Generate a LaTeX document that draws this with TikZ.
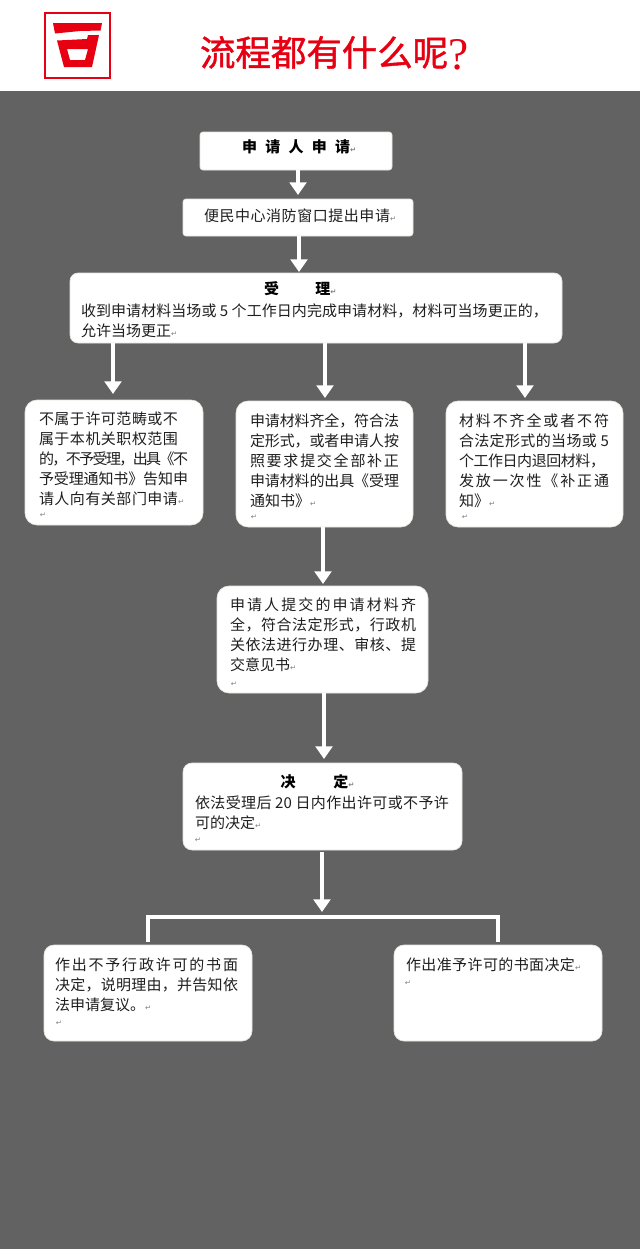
\documentclass[tikz,border=0pt]{standalone}
\usepackage{fontspec}
\setmainfont{Noto Sans CJK SC}
\newfontfamily\titlefont[FakeBold=1.2]{Noto Sans CJK SC}
\newfontfamily\retfont{DejaVu Sans}
\newfontfamily\qfont{Liberation Serif}
\usetikzlibrary{arrows.meta}
\definecolor{bggray}{HTML}{636263}
\definecolor{logored}{HTML}{E60012}
\definecolor{edgecol}{HTML}{E8E4DA}
\newlength\pxu \pxu=0.75pt
\makeatletter
\newcommand\jl[2]{\leavevmode\hbox to #1\pxu{\@tfor\jlc:=#2\do{\jlc\hskip 0pt plus 1fil minus 1fil\relax}\unskip}}
\makeatother
\newcommand\rt{{\retfont\fontsize{5.5pt}{5.5pt}\selectfont\textcolor{gray}{↵}}}
\tikzset{
  every node/.style={inner sep=0pt,outer sep=0pt},
  bx/.style n args={3}{draw=edgecol,line width=.5pt,fill=white,rounded corners=#3*0.75pt,minimum width=#1*0.75pt,minimum height=#2*0.75pt},
  txt/.style={anchor=north west,align=left,text=black!88,font=\fontsize{11.25pt}{15pt}\selectfont},
  head/.style={anchor=center,text=black,font=\fontsize{11.25pt}{15pt}\selectfont\bfseries},
  ret/.style={anchor=center,font=\fontsize{5.5pt}{5.5pt}\selectfont},
  arr/.style={draw=white,line width=3pt,-{Triangle[length=9.5pt,width=12.5pt]}},
  wline/.style={draw=white,line width=2.8pt}
}
\begin{document}
\begin{tikzpicture}[x=0.75pt,y=-0.75pt]
\useasboundingbox (0,0) rectangle (640,1249);
\fill[white] (0,0) rectangle (640,91);
\fill[bggray] (0,91) rectangle (640,1249);
% logo
\draw[logored,line width=1.9pt] (45,13) rectangle (110,78);
\fill[logored] (53,23) -- (102,23) -- (100.5,30.5) -- (80,31) -- (55,33.5) -- cycle;
\fill[logored,even odd rule] (57,40.5) -- (87,39) -- (88,35) -- (99,35) -- (92,67) -- (64,67) -- cycle
  (67,49) -- (88,49) -- (85,60) -- (70,60) -- cycle;
\node[anchor=west,text=logored,font=\fontsize{26.6pt}{30pt}\selectfont] (title) at (200,53) {\titlefont 流程都有什么呢{\qfont\fontsize{34pt}{34pt}\selectfont\raisebox{-2.5pt}{?}}};
% boxes
\node[bx={192}{38}{3}] (A) at (296,151) {};
\node[bx={230}{37}{3}] (B) at (298,217.5) {};
\node[bx={492}{70}{8}] (C) at (316,308) {};
\node[bx={178}{125}{12}] (D) at (114,462.5) {};
\node[bx={177}{126}{12}] (E) at (324.5,464) {};
\node[bx={177}{126}{12}] (F) at (534.5,464) {};
\node[bx={211}{107}{12}] (G) at (322.5,639.5) {};
\node[bx={279}{87}{9}] (H) at (322.5,806.5) {};
\node[bx={208}{96}{10}] (I) at (148,993) {};
\node[bx={208}{96}{10}] (J) at (498,993) {};
% texts
\node[txt,text=black] (Atx) at (242,140) {\bfseries\jl{108}{申请人申请}\rt};
\node[txt] (Btx) at (204,209) {\jl{186}{便民中心消防窗口提出申请}\rt};
\node[head] (Ch1) at (271.5,289) {受};
\node[head] (Ch2) at (326,289) {理\rt};
\node[txt] (Ctx) at (81,304) {\jl{467}{收到申请材料当场或{ 5 }个工作日内完成申请材料，材料可当场更正的，}\\允许当场更正\rt};
\node[txt] (Dtx) at (39,412) {\jl{139}{不属于许可范畴或不}\\\jl{139}{属于本机关职权范围}\\\jl{149}{的，不予受理，出具《不}\\\jl{149}{予受理通知书》告知申}\\\jl{139}{请人向有关部门申请}\rt};
\node[ret] (Dr) at (43,515) {\rt};
\node[txt] (Etx) at (250,414) {\jl{149}{申请材料齐全，符合法}\\\jl{149}{定形式，或者申请人按}\\\jl{149}{照要求提交全部补正}\\\jl{149}{申请材料的出具《受理}\\通知书》\rt};
\node[ret] (Er) at (254,517) {\rt};
\node[txt] (Ftx) at (459,414) {\jl{150}{材料不齐全或者不符}\\\jl{150}{合法定形式的当场或{ 5}}\\\jl{146}{个工作日内退回材料，}\\\jl{150}{发放一次性《补正通}\\知》\rt};
\node[ret] (Fr) at (465,517) {\rt};
\node[txt] (Gtx) at (230,598) {\jl{186}{申请人提交的申请材料齐}\\\jl{186}{全，符合法定形式，行政机}\\\jl{186}{关依法进行办理、审核、提}\\交意见书\rt};
\node[ret] (Gr) at (234,684) {\rt};
\node[head] (Hh1) at (288,782) {决};
\node[head] (Hh2) at (344,782) {定\rt};
\node[txt] (Htx) at (195,796) {\jl{254}{依法受理后{ 20 }日内作出许可或不予许}\\可的决定\rt};
\node[ret] (Hr) at (198,840) {\rt};
\node[txt] (Itx) at (55,958) {\jl{183}{作出不予行政许可的书面}\\\jl{183}{决定，说明理由，并告知依}\\法申请复议。\rt};
\node[ret] (Ir) at (59,1023) {\rt};
\node[txt] (Jtx) at (406,958) {\jl{169}{作出准予许可的书面决定}\rt};
\node[ret] (Jr) at (408,983) {\rt};
% arrow ends
\coordinate (ab) at (298,195);
\coordinate (bc) at (299,272);
\coordinate (cd) at (113,394);
\coordinate (ce) at (325,398);
\coordinate (cf) at (525,398);
\coordinate (eg) at (323,584);
\coordinate (gh) at (324,759);
\coordinate (hb) at (322,912);
\coordinate (bus) at (322,917);
\draw[arr] (A.south -| ab) -- (ab);
\draw[arr] (B.south -| bc) -- (bc);
\draw[arr] (C.south -| cd) -- (cd);
\draw[arr] (C.south -| ce) -- (ce);
\draw[arr] (C.south -| cf) -- (cf);
\draw[arr] (E.south -| eg) -- (eg);
\draw[arr] (G.south -| gh) -- (gh);
\draw[arr,shorten <=1.5pt] (H.south -| hb) -- (hb);
\draw[wline,shorten <=2.25pt,shorten >=2.25pt] (I.north) |- (bus) -| (J.north);
\end{tikzpicture}
\end{document}
